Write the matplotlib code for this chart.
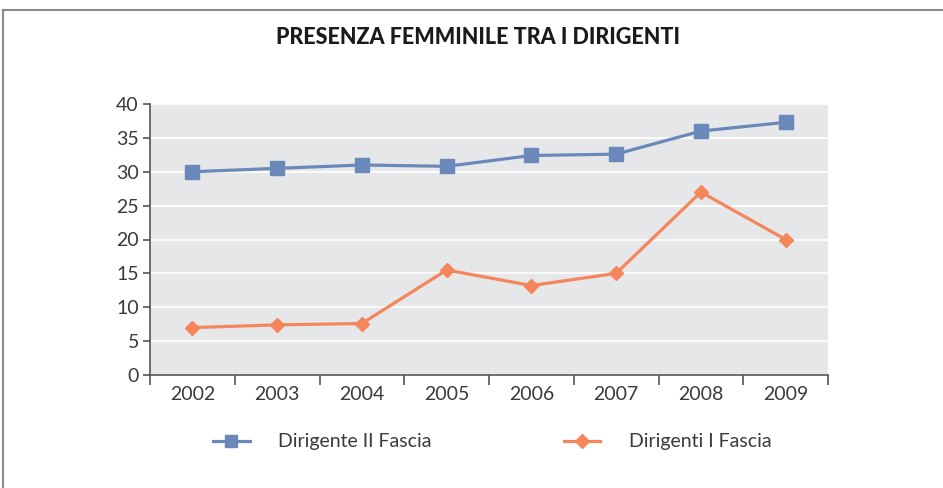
import matplotlib
matplotlib.use("Agg")
import matplotlib.pyplot as plt
from matplotlib.lines import Line2D

years = ["2002", "2003", "2004", "2005", "2006", "2007", "2008", "2009"]
dirigente_ii = [30.0, 30.5, 31.0, 30.8, 32.4, 32.6, 36.0, 37.3]
dirigenti_i = [7.0, 7.4, 7.6, 15.5, 13.2, 15.0, 27.0, 20.0]
y_ticks = [0, 5, 10, 15, 20, 25, 30, 35, 40]

title = "PRESENZA FEMMINILE TRA I DIRIGENTI"
label_ii = "Dirigente II Fascia"
label_i = "Dirigenti I Fascia"

blue = "#6A88B9"
orange = "#F5855A"
axis_col = "#555555"
text_col = "#3a3a3a"

plt.rcParams['font.family'] = ['Lato', 'DejaVu Sans']

fig = plt.figure(figsize=(9.43, 4.88), dpi=100)
ax = fig.add_axes([150/943, 1-375/488, 678/943, 271/488])
ax.set_facecolor("#E6E7E9")

x = list(range(len(years)))
ax.plot(x, dirigente_ii, color=blue, lw=2.3, marker="s", ms=9.5, zorder=3, label=label_ii)
ax.plot(x, dirigenti_i, color=orange, lw=2.3, marker="D", ms=7.5, zorder=3, label=label_i)

ax.set_xlim(-0.5, len(years) - 0.5)
ax.set_ylim(0, 40)
ax.set_yticks(y_ticks)
ax.set_yticklabels([str(v) for v in y_ticks])
ax.yaxis.grid(True, color="white", lw=1.2)
ax.set_axisbelow(True)

ax.set_xticks([i + 0.5 for i in range(-1, len(years))], minor=False)
ax.set_xticklabels([])
ax.set_xticks(x, minor=True)
ax.set_xticklabels(years, minor=True)
ax.tick_params(axis="x", which="major", direction="out", length=7, color=axis_col, width=1.2)
ax.tick_params(axis="x", which="minor", length=0, pad=8, labelsize=14, labelcolor=text_col)
ax.tick_params(axis="y", direction="out", length=5, color=axis_col, width=1.2, pad=3,
               labelsize=14, labelcolor=text_col)

for s in ["top", "right"]:
    ax.spines[s].set_visible(False)
for s in ["left", "bottom"]:
    ax.spines[s].set_color(axis_col)
    ax.spines[s].set_linewidth(1.2)

fig.text(478/943, 1-38/488, title, ha="center", va="center", fontsize=15.5,
         fontweight="black", color="#1a1a1a")

leg = fig.legend(handles=ax.get_lines(), loc="center", bbox_to_anchor=(492/943, 1-442/488),
                 ncol=2, frameon=False, fontsize=14, columnspacing=6.8,
                 handlelength=1.9, handletextpad=1.45, markerscale=0.9)
for t in leg.get_texts():
    t.set_color(text_col)

# frame
fig.add_artist(Line2D([3/943, 1], [1-10/488, 1-10/488], color="#8a8a8a", lw=1.5))
fig.add_artist(Line2D([3/943, 3/943], [0, 1-10/488], color="#8a8a8a", lw=1.5))

fig.savefig("out.png", dpi=100)
